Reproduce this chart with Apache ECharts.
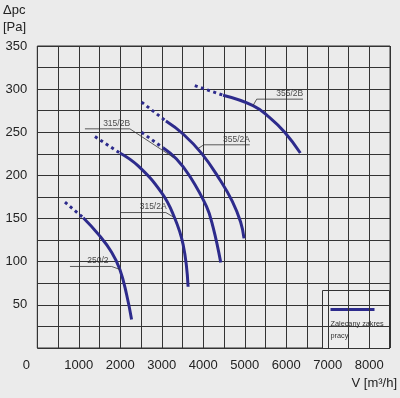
<!DOCTYPE html>
<html>
<head>
<meta charset="utf-8">
<script src="https://cdn.jsdelivr.net/npm/echarts@6/dist/echarts.min.js"></script>
<style>
  html, body { margin: 0; padding: 0; background: #ebebeb; }
  #chart { width: 400px; height: 398px; }
</style>
</head>
<body>
<div id="chart"></div>
<script>
// fan curves, [airflow m3/h, pressure Pa]; dotted part = outside recommended range
const fan250_2Dot = [[667, 169], [1107, 151]];
const fan250_2 = [[1107, 151], [1468, 132], [1791, 111], [1990, 91], [2152, 62], [2272, 33]];
const fan315_2ADot = [[1389, 245], [1990, 226]];
const fan315_2A = [[1990, 226], [2431, 211], [2994, 180], [3273, 155], [3514, 120], [3634, 71]];
const fan315_2BDot = [[2513, 250], [3030, 232]];
const fan315_2B = [[3030, 232], [3355, 219], [3676, 199], [4077, 164], [4236, 140], [4421, 99]];
const fan355_2ADot = [[2513, 285], [3100, 263]];
const fan355_2A = [[3100, 263], [3514, 248], [3970, 225], [4400, 195], [4700, 170], [4900, 146], [4982, 127]];
const fan355_2BDot = [[3795, 304], [4477, 293]];
const fan355_2B = [[4477, 293], [5199, 281], [5601, 267], [5962, 250], [6339, 226]];

const curveNames = ['250/2', '315/2A', '315/2B', '355/2A', '355/2B'];
const leaderLines = [
  [[1991, 91], [1791, 94.5], [787, 94.5]],
  [[3273, 152], [3098, 157], [2015, 157]],
  [[3273, 221], [2231, 254], [1148, 254]],
  [[3870, 231], [4012, 235.5], [5120, 235.5]],
  [[5199, 281], [5288, 288.4], [6403, 288.4]],
];
const labelSpots = [[1461, 94.5], [2792, 157], [1911, 254], [4800, 235.5], [6083, 288.4]];

const xTicks = [0, 1000, 2000, 3000, 4000, 5000, 6000, 7000, 8000];
const yTicks = [50, 100, 150, 200, 250, 300, 350];

const blue = '#2d2b8c';
const font = '"Liberation Sans", Arial, sans-serif';

const chart = echarts.init(document.getElementById('chart'));

const solid = (data) => ({
  type: 'line', data, smooth: 0.45, symbol: 'none', silent: true, z: 3,
  lineStyle: { color: blue, width: 3 },
});
const dotted = (data) => ({
  type: 'line', data, symbol: 'none', silent: true, z: 3,
  lineStyle: { color: blue, width: 3, type: [3, 3.5] },
});

const series = [
  dotted(fan250_2Dot), solid(fan250_2),
  dotted(fan315_2ADot), solid(fan315_2A),
  dotted(fan315_2BDot), solid(fan315_2B),
  dotted(fan355_2ADot), solid(fan355_2A),
  dotted(fan355_2BDot), solid(fan355_2B),
];

leaderLines.forEach((pts) => {
  series.push({
    type: 'line', data: pts, symbol: 'none', silent: true, z: 4,
    lineStyle: { color: '#333', width: 0.8 },
  });
});

series.push({
  type: 'scatter', symbolSize: 0, silent: true, z: 5,
  data: labelSpots.map((p, i) => ({ value: p, name: curveNames[i] })),
  label: {
    show: true, position: 'top', distance: 1,
    formatter: (p) => p.name,
    color: '#222', fontSize: 8.5, fontFamily: font,
  },
});

chart.setOption({
  backgroundColor: '#ebebeb',
  animation: false,
  grid: { left: 37.3, right: 10, top: 46, bottom: 50, show: true, borderColor: '#333', borderWidth: 1 },
  xAxis: {
    type: 'value', min: 0, max: 8500, interval: 500,
    axisLine: { show: false }, axisTick: { show: false },
    splitLine: { show: true, lineStyle: { color: '#333', width: 1 } },
    axisLabel: {
      margin: 11, color: '#222', fontSize: 13, fontFamily: font,
      formatter: (v) => {
        if (!xTicks.includes(v)) return '';
        return v === 0 ? '{zero|0}' : String(v);
      },
      rich: { zero: { fontSize: 13, fontFamily: font, color: '#222', padding: [0, 22, 0, 0] } },
    },
  },
  yAxis: {
    type: 'value', min: 0, max: 350, interval: 25,
    axisLine: { show: false }, axisTick: { show: false },
    splitLine: { show: true, lineStyle: { color: '#333', width: 1 } },
    axisLabel: {
      margin: 10, color: '#222', fontSize: 13, fontFamily: font,
      formatter: (v) => (yTicks.includes(v) ? String(v) : ''),
    },
  },
  graphic: [
    {
      type: 'text', left: 3, top: 2, z: 100,
      style: { text: 'Δpc\n[Pa]', fill: '#222', font: '13px ' + font, lineHeight: 17 },
    },
    {
      type: 'text', right: 3, top: 377, z: 100,
      style: { text: 'V [m³/h]', fill: '#222', font: '13px ' + font },
    },
    {
      type: 'group', left: 322, top: 290, z: 100,
      children: [
        { type: 'rect', shape: { x: 0, y: 0, width: 67, height: 58 },
          style: { fill: '#ededed', stroke: '#333', lineWidth: 1 } },
        { type: 'line', shape: { x1: 8, y1: 19, x2: 52, y2: 19 },
          style: { stroke: blue, lineWidth: 3 } },
        { type: 'text', x: 8, y: 27,
          style: { text: 'Zalecany zakres\npracy', fill: '#333', font: '7.3px ' + font, lineHeight: 12 } },
      ],
    },
  ],
  series,
});
</script>
</body>
</html>
